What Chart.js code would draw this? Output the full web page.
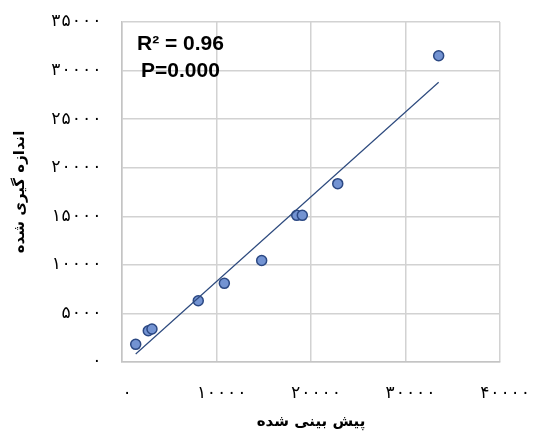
<!DOCTYPE html>
<html>
<head>
<meta charset="utf-8">
<script src="https://cdn.jsdelivr.net/npm/chart.js@4/dist/chart.umd.min.js"></script>
<style>
  html, body { margin: 0; padding: 0; background: #fff; }
  #wrap { width: 536px; height: 433px; }
</style>
</head>
<body>
<div id="wrap"><canvas id="Chart" width="536" height="433"></canvas></div>
<script>
// predicted (x) vs measured (y)
const predicted = [1450, 2780, 3170, 8070, 10830, 14780, 18490, 19080, 22830, 33510];
const measured = [1820, 3220, 3400, 6310, 8100, 10450, 15100, 15100, 18360, 31530];

const xTicks = [0, 10000, 20000, 30000, 40000];
const yTicks = [0, 5000, 10000, 15000, 20000, 25000, 30000, 35000];
const xTitle = "پیش بینی شده";
const yTitle = "اندازه گیری شده";
const statLines = ["R² = 0.96", "P=0.000"];

const faDigits = "۰۱۲۳۴۵۶۷۸۹";
function toFa(n) {
  return String(n).replace(/[0-9]/g, d => faDigits[d]);
}

// least squares trendline
const n = predicted.length;
const mx = predicted.reduce((a, b) => a + b, 0) / n;
const my = measured.reduce((a, b) => a + b, 0) / n;
let sxy = 0, sxx = 0;
for (let i = 0; i < n; i++) {
  sxy += (predicted[i] - mx) * (measured[i] - my);
  sxx += (predicted[i] - mx) * (predicted[i] - mx);
}
const slope = sxy / sxx;
const icpt = my - slope * mx;
const xMin = Math.min(...predicted), xMax = Math.max(...predicted);
const trend = [
  { x: xMin, y: icpt + slope * xMin },
  { x: xMax, y: icpt + slope * xMax }
];

const statsPlugin = {
  id: "stats",
  afterDatasetsDraw(chart) {
    const c = chart.ctx;
    const a = chart.chartArea;
    c.save();
    c.fillStyle = "#000";
    c.font = "bold 21px 'Liberation Sans', Arial, sans-serif";
    c.textBaseline = "alphabetic";
    c.fillText(statLines[0], a.left + 15, a.top + 28);
    c.fillText(statLines[1], a.left + 19, a.top + 55);
    c.restore();
  }
};

const tickFont = { family: "'DejaVu Sans Mono', 'DejaVu Sans'", size: 17 };

const ctx = document.getElementById("Chart").getContext("2d");
new Chart(ctx, {
  type: "scatter",
  data: {
    datasets: [
      {
        label: "trend",
        type: "line",
        data: trend,
        borderColor: "#2d4a7e",
        borderWidth: 1.2,
        pointRadius: 0,
        fill: false
      },
      {
        label: "data",
        data: predicted.map((x, i) => ({ x: x, y: measured[i] })),
        backgroundColor: "#7393d2",
        borderColor: "#2b4883",
        borderWidth: 1.5,
        pointRadius: 5
      }
    ]
  },
  options: {
    responsive: false,
    animation: false,
    layout: { padding: { left: 0, right: 36, top: 22, bottom: 0 } },
    plugins: {
      legend: { display: false },
      tooltip: { enabled: false }
    },
    scales: {
      x: {
        type: "linear",
        min: xTicks[0],
        max: xTicks[xTicks.length - 1],
        afterBuildTicks: s => { s.ticks = xTicks.map(v => ({ value: v })); },
        afterFit: s => { s.height = 71; s.paddingLeft = 0; s.paddingRight = 0; },
        grid: { color: "#d2d2d2", lineWidth: 1.5, drawTicks: false },
        border: { color: "#c4c4c4", width: 1.5 },
        ticks: {
          padding: 21,
          labelOffset: 5,
          color: "#000",
          font: tickFont,
          callback: v => toFa(v)
        },
        title: {
          display: true,
          text: xTitle,
          color: "#000",
          font: { family: "'DejaVu Sans'", size: 15, weight: "bold" },
          padding: { top: 0, bottom: 2 }
        }
      },
      y: {
        type: "linear",
        min: yTicks[0],
        max: yTicks[yTicks.length - 1],
        afterBuildTicks: s => { s.ticks = yTicks.map(v => ({ value: v })); },
        afterFit: s => { s.width = 122; s.paddingTop = 0; s.paddingBottom = 0; },
        grid: { color: "#d2d2d2", lineWidth: 1.5, drawTicks: false },
        border: { color: "#c4c4c4", width: 1.5 },
        ticks: {
          padding: 20,
          color: "#000",
          font: tickFont,
          callback: v => toFa(v)
        },
        title: {
          display: true,
          text: yTitle,
          color: "#000",
          font: { family: "'DejaVu Sans'", size: 15, weight: "bold" },
          padding: { top: 11, bottom: 0 }
        }
      }
    }
  },
  plugins: [statsPlugin]
});
</script>
</body>
</html>
